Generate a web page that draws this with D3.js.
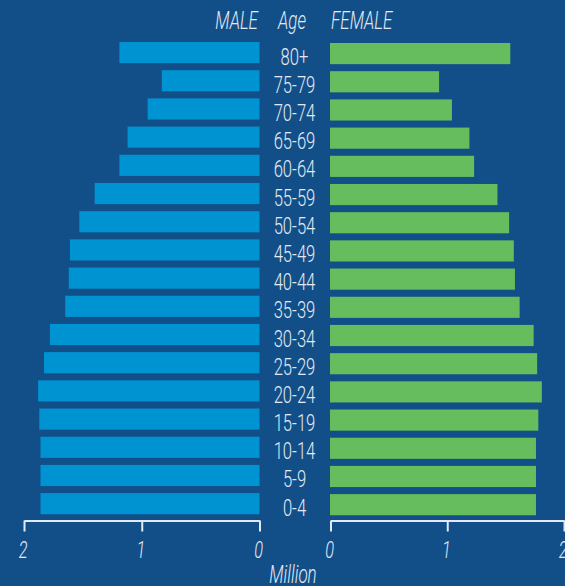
<!DOCTYPE html>
<html>
<head>
<meta charset="utf-8">
<script src="https://cdn.jsdelivr.net/npm/d3@7"></script>
<style>
  html, body { margin: 0; padding: 0; background: #124f88; }
  svg { display: block; }
  text { font-family: Roboto, "Open Sans", sans-serif; font-weight: 300; fill: #e3eaf3; }
</style>
</head>
<body>
<svg id="chart" width="565" height="586"></svg>
<script>
const ageGroups = ["80+","75-79","70-74","65-69","60-64","55-59","50-54","45-49","40-44","35-39","30-34","25-29","20-24","15-19","10-14","5-9","0-4"];
const maleValues = [1.19,0.83,0.95,1.12,1.19,1.40,1.53,1.61,1.62,1.65,1.78,1.83,1.88,1.87,1.86,1.86,1.86];
const femaleValues = [1.54,0.93,1.04,1.19,1.23,1.43,1.53,1.57,1.58,1.62,1.74,1.77,1.81,1.78,1.76,1.76,1.76];
const tickValues = [0,1,2];
const tickLabels = ["0","1","2"];
const headers = ["MALE","Age","FEMALE"];
const unitLabel = "Million";

const svg = d3.select("#chart");
const W = 565, H = 586;
const SX = 0.68;

svg.append("rect").attr("width", W).attr("height", H).attr("fill", "#124f88");

const y = d3.scaleBand().domain(ageGroups).range([34.95, 521.3]).padding(0.25);
const xm = d3.scaleLinear().domain([0, 2]).range([259.5, 24]);
const xf = d3.scaleLinear().domain([0, 2]).range([330.5, 564]);

const rows = ageGroups.map((g, i) => ({g, m: maleValues[i], f: femaleValues[i]}));

svg.append("g").selectAll("rect").data(rows).join("rect")
  .attr("x", d => xm(d.m))
  .attr("y", d => y(d.g))
  .attr("width", d => xm(0) - xm(d.m))
  .attr("height", y.bandwidth())
  .attr("fill", "#0093d2");

svg.append("g").selectAll("rect").data(rows).join("rect")
  .attr("x", xf(0) - 0.5)
  .attr("y", d => y(d.g) + 1)
  .attr("width", d => xf(d.f) - xf(0) + 0.5)
  .attr("height", y.bandwidth())
  .attr("fill", "#66bd5d");

// age labels
svg.append("g").selectAll("text").data(rows).join("text")
  .attr("transform", d => `translate(294.5,${y(d.g) + y.bandwidth() / 2 + 12}) scale(${SX},1)`)
  .attr("text-anchor", "middle")
  .attr("font-size", 24.5)
  .text(d => d.g);

// headers
const hdr = svg.append("g").attr("font-size", 25).attr("font-style", "italic");
hdr.append("text").attr("transform", `translate(258,29) scale(${SX},1)`).attr("text-anchor", "end").text(headers[0]);
hdr.append("text").attr("transform", `translate(292,29) scale(${SX},1)`).attr("text-anchor", "middle").text(headers[1]);
hdr.append("text").attr("transform", `translate(331,29) scale(${SX},1)`).attr("text-anchor", "start").text(headers[2]);

// axes
function styleAxis(g) {
  g.select(".domain").attr("stroke", "#e3eaf3").attr("stroke-width", 2);
  g.selectAll(".tick line").attr("stroke", "#e3eaf3").attr("stroke-width", 2);
  g.selectAll(".tick text")
    .attr("y", 37.5).attr("dy", null)
    .attr("transform", `scale(${SX},1)`)
    .attr("font-family", null)
    .attr("font-size", 24)
    .attr("font-style", "italic")
    .attr("fill", "#e3eaf3")
    .attr("x", -2);
}
const axM = d3.axisBottom(xm).tickValues(tickValues).tickFormat((d, i) => tickLabels[i]).tickSize(11).tickSizeOuter(0);
const axF = d3.axisBottom(xf).tickValues(tickValues).tickFormat((d, i) => tickLabels[i]).tickSize(11).tickSizeOuter(0);
svg.append("g").attr("transform", "translate(0,520.5)").call(axM).call(styleAxis);
svg.append("g").attr("transform", "translate(0,520.5)").call(axF).call(styleAxis);

svg.append("text")
  .attr("transform", `translate(293,583) scale(${SX},1)`)
  .attr("text-anchor", "middle")
  .attr("font-size", 25)
  .attr("font-style", "italic")
  .text(unitLabel);
</script>
</body>
</html>
